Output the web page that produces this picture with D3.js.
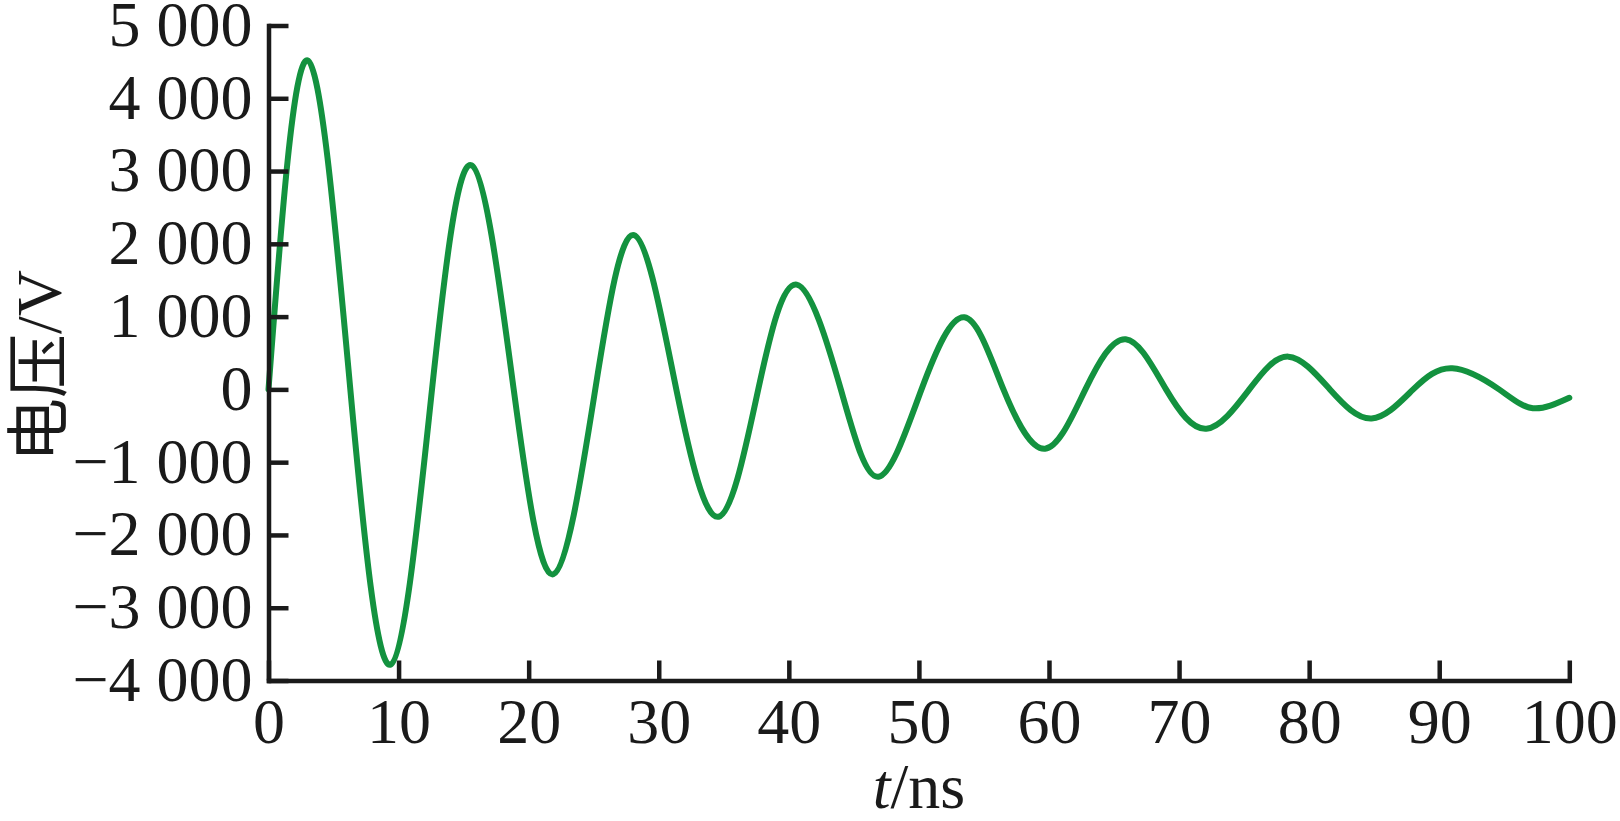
<!DOCTYPE html>
<html>
<head>
<meta charset="utf-8">
<script src="https://cdn.jsdelivr.net/npm/d3@7"></script>
<style>
  html, body { margin: 0; padding: 0; background: #ffffff; }
  svg { display: block; }
</style>
</head>
<body>
<svg id="chart" width="1620" height="821"></svg>
<script>
// Data
const timeNs = [0, 3.0, 6.29, 9.4, 12.57, 15.6, 18.85, 21.9, 25.12, 28.1, 31.35, 34.6, 37.65, 40.6, 44.0, 46.9, 50.2, 53.5, 56.5, 59.7, 62.8, 65.9, 69.0, 72.1, 75.4, 78.4, 81.6, 84.8, 88.0, 91.0, 94.6, 97.2, 100];
const voltageV = [0, 4520, 0, -3780, 0, 3080, 0, -2540, 0, 2120, 0, -1750, 0, 1440, 0, -1200, 0, 990, 0, -815, 0, 690, 0, -540, 0, 450, 0, -400, 0, 290, 0, -258, -115];
const xTicks = [0, 10, 20, 30, 40, 50, 60, 70, 80, 90, 100];
const yTicks = [-4000, -3000, -2000, -1000, 0, 1000, 2000, 3000, 4000, 5000];
const xTitleItalic = "t";
const xTitleRest = "/ns";
const yTitleCJK = "电压";
const yTitleRest = "/V";

const svg = d3.select("#chart");
const serif = "'Liberation Serif', 'DejaVu Serif', serif";

const x = d3.scaleLinear().domain([0, 100]).range([268.5, 1569.3]);
const y = d3.scaleLinear().domain([-4000, 5000]).range([680.5, 25.5]);

function fmt(v) {
  const s = Math.abs(v).toString().replace(/\B(?=(\d{3})+(?!\d))/g, " ");
  return (v < 0 ? "\u2212" : "") + s;
}

// Curve
const data = timeNs.map((t, i) => ({ t, v: voltageV[i] }));
const line = d3.line().x(d => x(d.t)).y(d => y(d.v)).curve(d3.curveNatural);
svg.append("path")
  .datum(data)
  .attr("d", line)
  .attr("fill", "none")
  .attr("stroke", "#13923f")
  .attr("stroke-width", 6)
  .attr("stroke-linejoin", "round")
  .attr("stroke-linecap", "round");

// Axes
const xAxis = d3.axisBottom(x).tickValues(xTicks).tickSizeInner(-20).tickSizeOuter(0).tickFormat(d => d);
const yAxis = d3.axisLeft(y).tickValues(yTicks).tickSizeInner(-20).tickSizeOuter(0).tickFormat(fmt);

const gx = svg.append("g").attr("transform", `translate(0,${y(-4000)})`).call(xAxis);
const gy = svg.append("g").attr("transform", `translate(${x(0)},0)`).call(yAxis);

[gx, gy].forEach(g => {
  g.select(".domain").attr("stroke", "#1a1a1a").attr("stroke-width", 4.5).attr("stroke-linecap", "square");
  g.selectAll(".tick line").attr("stroke", "#1a1a1a").attr("stroke-width", 4.5);
  g.selectAll(".tick text").attr("fill", "#1a1a1a").style("font-family", serif).style("font-size", "64px");
});
gx.selectAll(".tick text").attr("y", 62).attr("dy", 0);
gy.selectAll(".tick text").attr("x", -16).attr("dy", "0.31em");

// X title
const xt = svg.append("text")
  .attr("x", (x(0) + x(100)) / 2)
  .attr("y", 808)
  .attr("text-anchor", "middle")
  .attr("fill", "#1a1a1a")
  .style("font-family", serif)
  .style("font-size", "64px");
xt.append("tspan").style("font-style", "italic").text(xTitleItalic);
xt.append("tspan").text(xTitleRest);

// Y title
const yt = svg.append("text")
  .attr("transform", "translate(61,366) rotate(-90)")
  .attr("text-anchor", "middle")
  .attr("fill", "#1a1a1a")
  .style("font-size", "64px");
yt.append("tspan").style("font-family", "'Noto Sans CJK SC', sans-serif").text(yTitleCJK);
yt.append("tspan").style("font-family", serif).text(yTitleRest);
</script>
</body>
</html>
